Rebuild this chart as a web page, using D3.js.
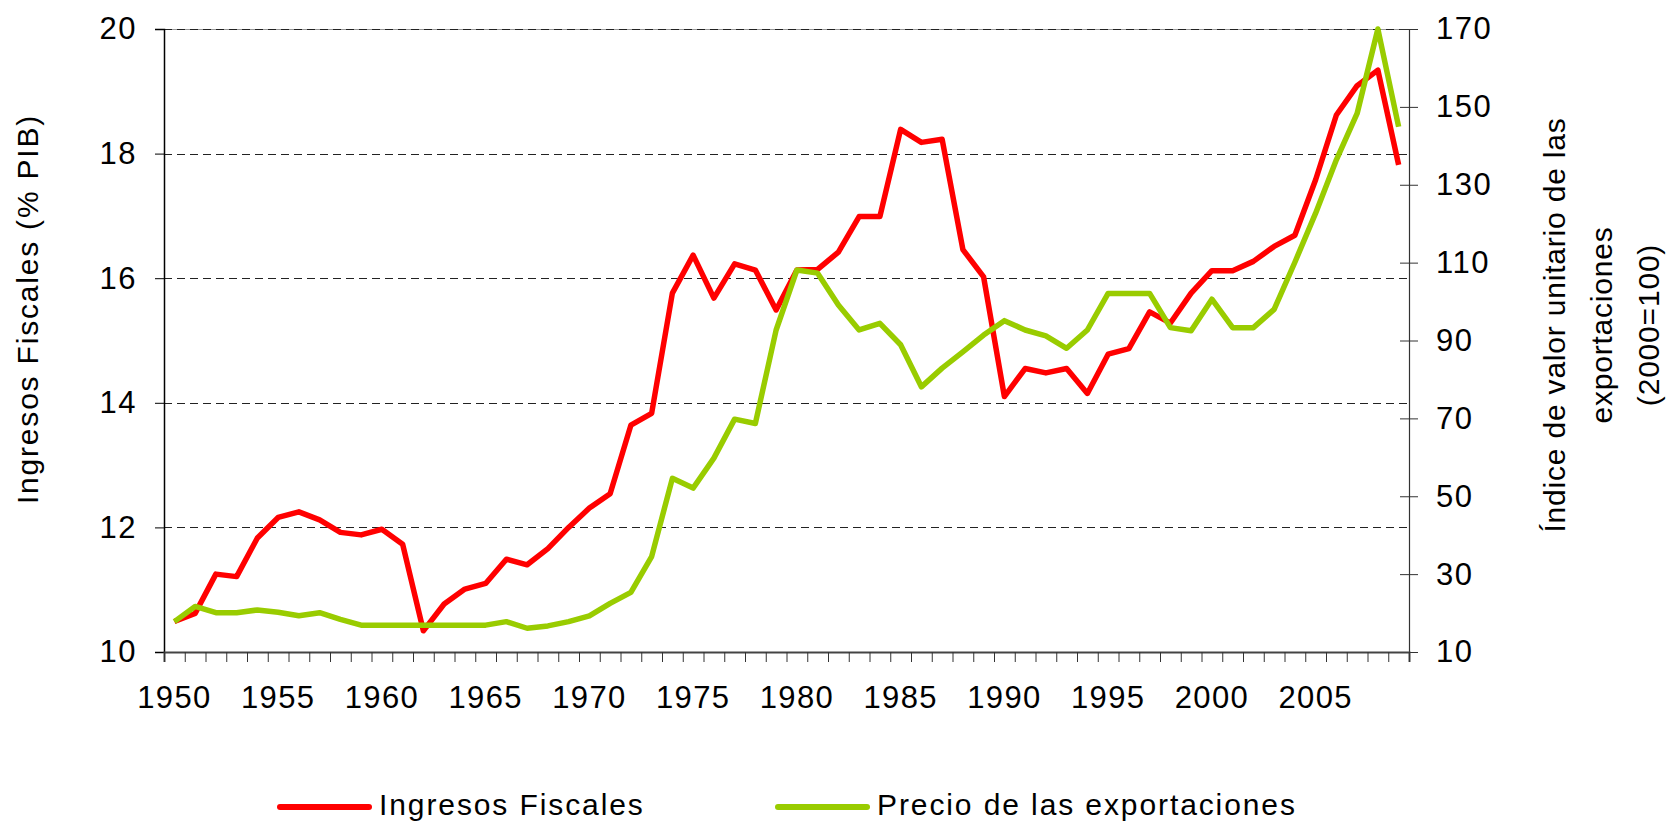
<!DOCTYPE html>
<html>
<head>
<meta charset="utf-8">
<script src="https://cdn.jsdelivr.net/npm/d3@7"></script>
<style>
  body { margin: 0; background: #fff; }
  text { font-family: "Liberation Sans", Arial, sans-serif; fill: #000; }
</style>
</head>
<body>
<svg width="1668" height="822"></svg>
<script>
// years on the x axis
var years = d3.range(1950, 2010);

// Ingresos Fiscales (% PIB), left axis
var ingresos = [10.49, 10.62, 11.25, 11.21, 11.83, 12.16, 12.25, 12.12, 11.92, 11.88,
                11.97, 11.73, 10.34, 10.77, 11.01, 11.10, 11.49, 11.40, 11.66, 12.00,
                12.31, 12.54, 13.64, 13.83, 15.76, 16.37, 15.68, 16.23, 16.13, 15.49,
                16.13, 16.14, 16.42, 16.99, 16.99, 18.39, 18.18, 18.23, 16.46, 16.02,
                14.10, 14.55, 14.48, 14.55, 14.15, 14.78, 14.87, 15.46, 15.28, 15.76,
                16.12, 16.12, 16.27, 16.51, 16.69, 17.58, 18.62, 19.09, 19.34, 17.82];

// Precio de las exportaciones (2000=100), right axis
var precio = [17.8, 21.7, 20.1, 20.1, 20.8, 20.2, 19.3, 20.1, 18.4, 16.9,
              16.9, 16.9, 16.9, 16.9, 16.9, 16.9, 17.8, 16.1, 16.7, 17.8,
              19.3, 22.5, 25.3, 34.5, 54.6, 52.1, 59.8, 69.8, 68.7, 92.7,
              108.1, 107.3, 99.1, 92.7, 94.4, 88.9, 78.1, 82.9, 87.1, 91.4,
              95.1, 92.7, 91.2, 88.0, 92.7, 102.1, 102.1, 102.1, 93.3, 92.5,
              100.6, 93.3, 93.3, 98.0, 110.1, 122.7, 136.4, 148.3, 170.0, 144.9];

var leftTicks = [10, 12, 14, 16, 18, 20];
var rightTicks = [10, 30, 50, 70, 90, 110, 130, 150, 170];
var yearLabels = years.filter(function(y) { return y % 5 === 0 && y <= 2005; });

var svg = d3.select("svg");
var plotLeft = 164, plotRight = 1409, plotTop = 29, plotBottom = 652;

var x = d3.scaleBand().domain(years).range([plotLeft, plotRight]);
var xEdge = d3.scaleLinear().domain([0, years.length]).range([plotLeft, plotRight]);
var yL = d3.scaleLinear().domain([10, 20]).range([plotBottom, plotTop]);
var yR = d3.scaleLinear().domain([10, 170]).range([plotBottom, plotTop]);

// top border
svg.append("line")
    .attr("x1", plotLeft).attr("x2", plotRight)
    .attr("y1", plotTop + 0.5).attr("y2", plotTop + 0.5)
    .attr("stroke", "#999").attr("stroke-width", 1);

// grid lines
svg.append("g").selectAll("line")
  .data(leftTicks.filter(function(d) { return d > 10; }))
  .enter().append("line")
    .attr("x1", plotLeft).attr("x2", plotRight)
    .attr("y1", function(d) { return Math.round(yL(d)) + 0.5; })
    .attr("y2", function(d) { return Math.round(yL(d)) + 0.5; })
    .attr("stroke", "#222")
    .attr("stroke-width", 1)
    .attr("stroke-dasharray", "8,5");

// left axis
var gL = svg.append("g")
    .attr("transform", "translate(" + plotLeft + ",0)")
    .call(d3.axisLeft(yL).tickValues(leftTicks).tickSize(9).tickPadding(18).tickFormat(d3.format("d")));
gL.select(".domain").attr("stroke", "#000").attr("stroke-width", 1.5);
gL.selectAll("text").style("font-size", "31px").style("letter-spacing", "1.5px");

// right axis
var gR = svg.append("g")
    .attr("transform", "translate(" + plotRight + ",0)")
    .call(d3.axisRight(yR).tickValues(rightTicks).tickSize(9).tickPadding(18).tickFormat(d3.format("d")));
gR.select(".domain").attr("stroke", "#333").attr("stroke-width", 1.2);
gR.selectAll(".tick line").attr("x1", -9).attr("stroke", "#333");
gR.selectAll("text").style("font-size", "31px").style("letter-spacing", "1.5px");

// bottom axis: tick marks between categories
var gB = svg.append("g")
    .attr("transform", "translate(0," + plotBottom + ")")
    .call(d3.axisBottom(xEdge).tickValues(d3.range(years.length + 1)).tickSize(10).tickFormat(""));
gB.select(".domain").attr("stroke", "#444").attr("stroke-width", 2);
gB.selectAll(".tick line").attr("stroke", "#333");

// bottom axis labels
var gBL = svg.append("g")
    .attr("transform", "translate(0," + plotBottom + ")")
    .call(d3.axisBottom(x).tickValues(yearLabels).tickSize(0).tickPadding(34));
gBL.select(".domain").remove();
gBL.selectAll("text").style("font-size", "31px").style("letter-spacing", "1.3px");

// lines
var lineL = d3.line()
    .x(function(d, i) { return x(years[i]) + x.bandwidth() / 2; })
    .y(function(d) { return yL(d); });
var lineR = d3.line()
    .x(function(d, i) { return x(years[i]) + x.bandwidth() / 2; })
    .y(function(d) { return yR(d); });

svg.append("path")
    .datum(ingresos)
    .attr("d", lineL)
    .attr("fill", "none")
    .attr("stroke", "#ff0000")
    .attr("stroke-width", 5.5)
    .attr("stroke-linejoin", "round");

svg.append("path")
    .datum(precio)
    .attr("d", lineR)
    .attr("fill", "none")
    .attr("stroke", "#99cc00")
    .attr("stroke-width", 5.5)
    .attr("stroke-linejoin", "round");

// axis titles
svg.append("text")
    .attr("transform", "translate(38,309) rotate(-90)")
    .attr("text-anchor", "middle")
    .style("font-size", "30px")
    .style("letter-spacing", "1.8px")
    .text("Ingresos Fiscales (% PIB)");

var rTitle = ["Índice de valor unitario de las", "exportaciones", "(2000=100)"];
svg.append("g").selectAll("text")
  .data(rTitle)
  .enter().append("text")
    .attr("transform", function(d, i) { return "translate(" + (1565 + i * 47) + ",325) rotate(-90)"; })
    .attr("text-anchor", "middle")
    .style("font-size", "30px")
    .style("letter-spacing", "0.8px")
    .text(function(d) { return d; });

// legend
var legend = [
  { name: "Ingresos Fiscales", color: "#ff0000", x: 280 },
  { name: "Precio de las exportaciones", color: "#99cc00", x: 778 }
];
var lg = svg.append("g").selectAll("g").data(legend).enter().append("g")
    .attr("transform", function(d) { return "translate(" + d.x + ",807)"; });
lg.append("line")
    .attr("x1", 0).attr("x2", 89)
    .attr("stroke", function(d) { return d.color; })
    .attr("stroke-width", 6)
    .attr("stroke-linecap", "round");
lg.append("text")
    .attr("x", 99).attr("y", 8)
    .style("font-size", "30px")
    .style("letter-spacing", "1.9px")
    .text(function(d) { return d.name; });
</script>
</body>
</html>
